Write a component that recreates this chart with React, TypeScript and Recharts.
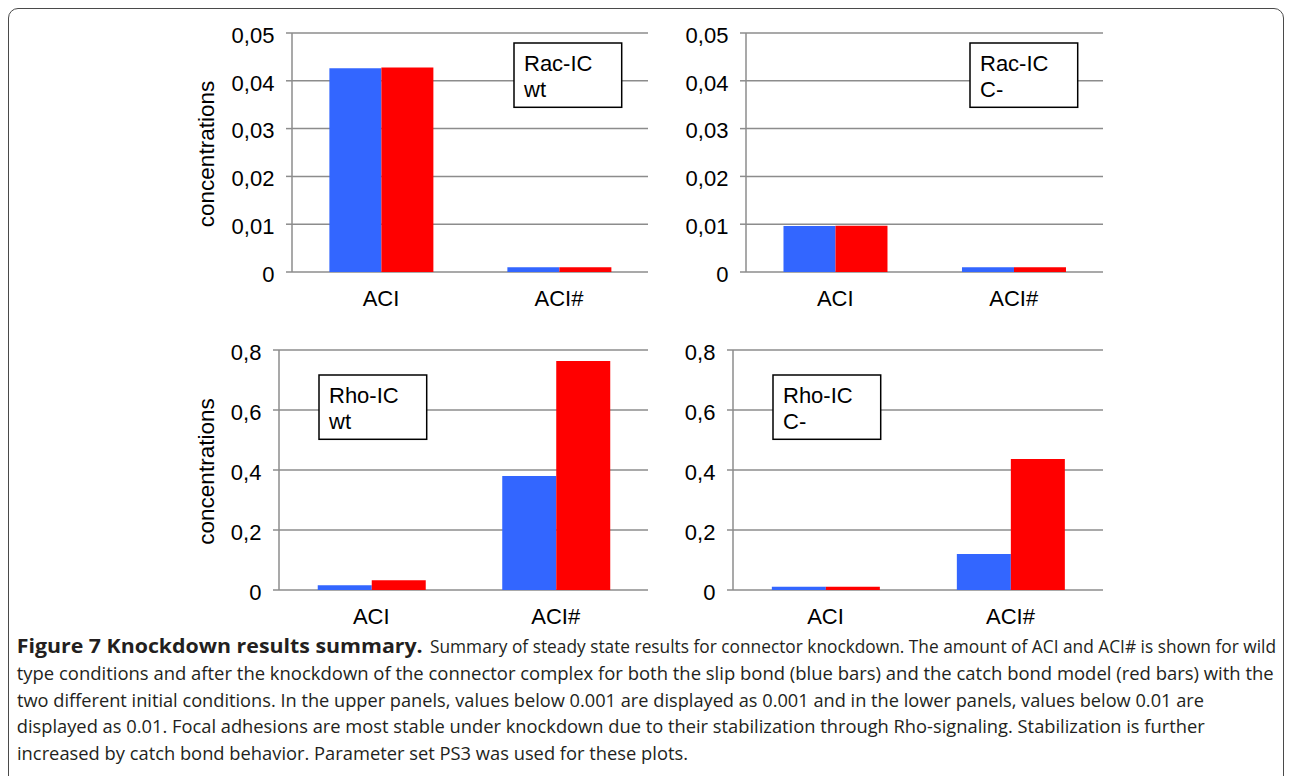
import React from 'react';
import { BarChart, Bar, XAxis, YAxis, CartesianGrid } from 'recharts';

// ---------- data ----------
const categories = ['ACI', 'ACI#'];

const racWtSlip = [0.0426, 0.001];
const racWtCatch = [0.0428, 0.001];
const racCSlip = [0.0096, 0.001];
const racCCatch = [0.0097, 0.001];
const rhoWtSlip = [0.0157, 0.38];
const rhoWtCatch = [0.0324, 0.763];
const rhoCSlip = [0.011, 0.12];
const rhoCCatch = [0.011, 0.437];

const racTicks = [0, 0.01, 0.02, 0.03, 0.04, 0.05];
const racTickLabels = ['0', '0,01', '0,02', '0,03', '0,04', '0,05'];
const rhoTicks = [0, 0.2, 0.4, 0.6, 0.8];
const rhoTickLabels = ['0', '0,2', '0,4', '0,6', '0,8'];
const boundaryTicks = [0, 1, 2];

const boxRacWt = ['Rac-IC', 'wt'];
const boxRacC = ['Rac-IC', 'C-'];
const boxRhoWt = ['Rho-IC', 'wt'];
const boxRhoC = ['Rho-IC', 'C-'];

const yTitle = 'concentrations';

const captionTitle = 'Figure 7 Knockdown results summary.';
const captionLines = [
  'Summary of steady state results for connector knockdown. The amount of ACI and ACI# is shown for wild',
  'type conditions and after the knockdown of the connector complex for both the slip bond (blue bars) and the catch bond model (red bars) with the',
  'two different initial conditions. In the upper panels, values below 0.001 are displayed as 0.001 and in the lower panels, values below 0.01 are',
  'displayed as 0.01. Focal adhesions are most stable under knockdown due to their stabilization through Rho-signaling. Stabilization is further',
  'increased by catch bond behavior. Parameter set PS3 was used for these plots.',
];

// ---------- style ----------
const FONT = '"Liberation Sans", Arial, sans-serif';
const GRID = '#8c8c8c';
const BLUE = '#3366FF';
const RED = '#FF0000';

type PanelProps = {
  chartLeft: number;
  chartTop: number;
  plotLeft: number;
  plotRight: number;
  plotTop: number;
  plotBottom: number;
  slip: number[];
  catchV: number[];
  ticks: number[];
  tickLabels: string[];
  showTitle: boolean;
  box: string[];
  boxDx: number;
  boxDy: number;
};

const renderNothing = () => <g />;

function Panel(p: PanelProps) {
  const data = categories.map((c, i) => ({ name: c, slip: p.slip[i], catchBond: p.catchV[i] }));
  const marginTop = p.plotTop - p.chartTop;
  const yWidth = p.plotLeft - p.chartLeft;
  const marginRight = 12;
  const width = p.plotRight - p.chartLeft + marginRight;
  const xH = 50;
  const height = p.plotBottom - p.chartTop + xH;

  const yTick = (props: any) => {
    const idx = p.ticks.indexOf(props.payload.value);
    return (
      <text x={props.x} y={props.y} dy={9.8} textAnchor="end" fontSize={22} fontFamily={FONT} fill="#000">
        {idx >= 0 ? p.tickLabels[idx] : ''}
      </text>
    );
  };
  const xTick = (props: any) => (
    <text x={props.x} y={props.y} dy={34} textAnchor="middle" fontSize={22} fontFamily={FONT} fill="#000">
      {props.payload.value}
    </text>
  );
  const titleLabel = (props: any) => {
    const vb = props.viewBox || {};
    const cx = vb.x + 34;
    const cy = vb.y + vb.height / 2 + 1.5;
    return (
      <text
        x={cx}
        y={cy}
        transform={`rotate(-90 ${cx} ${cy})`}
        textAnchor="middle"
        fontSize={22.5}
        fontFamily={FONT}
        fill="#000"
      >
        {yTitle}
      </text>
    );
  };

  return (
    <div style={{ position: 'absolute', left: p.chartLeft, top: p.chartTop, width, height }}>
      <BarChart
        width={width}
        height={height}
        data={data}
        margin={{ top: marginTop, right: marginRight, bottom: 0, left: 0 }}
        barCategoryGap="21%"
        barGap={0}
      >
        <CartesianGrid vertical={false} stroke={GRID} strokeWidth={1.5} />
        <XAxis
          xAxisId="edge"
          type="number"
          domain={[0, 2]}
          ticks={boundaryTicks}
          allowDataOverflow
          height={0}
          tick={renderNothing}
          tickSize={6}
          tickLine={{ stroke: GRID, strokeWidth: 1.5 }}
          axisLine={{ stroke: GRID, strokeWidth: 1.5 }}
        />
        <XAxis
          dataKey="name"
          height={xH}
          tickLine={false}
          axisLine={false}
          tickSize={0}
          tickMargin={0}
          interval={0}
          tick={xTick}
        />
        <YAxis
          width={yWidth}
          type="number"
          domain={[p.ticks[0], p.ticks[p.ticks.length - 1]]}
          ticks={p.ticks}
          interval={0}
          tickSize={6}
          tickMargin={11.6}
          tick={yTick}
          tickLine={{ stroke: GRID, strokeWidth: 1.5 }}
          axisLine={{ stroke: GRID, strokeWidth: 1.5 }}
          label={p.showTitle ? titleLabel : undefined}
        />
        <Bar dataKey="slip" fill={BLUE} isAnimationActive={false} />
        <Bar dataKey="catchBond" fill={RED} isAnimationActive={false} />
      </BarChart>
      <svg
        width={110}
        height={68}
        style={{ position: 'absolute', left: p.plotLeft - p.chartLeft + p.boxDx - 1, top: p.plotTop - p.chartTop + p.boxDy - 1 }}
      >
        <rect x={1} y={1} width={107.7} height={64.3} fill="#fff" stroke="#000" strokeWidth={1.5} />
        <text x={11} y={28.7} fontSize={22} fontFamily={FONT} fill="#000">{p.box[0]}</text>
        <text x={11} y={54.7} fontSize={22} fontFamily={FONT} fill="#000">{p.box[1]}</text>
      </svg>
    </div>
  );
}

export default function App() {
  const capFont = '"Open Sans", "Noto Sans", sans-serif';
  const capSize = 17.5;
  return (
    <div
      style={{
        position: 'absolute',
        left: 0,
        top: 0,
        width: 1294,
        height: 776,
        background: '#fff',
        overflow: 'hidden',
        fontFamily: FONT,
      }}
    >
      <div
        style={{
          position: 'absolute',
          left: 7.5,
          top: 7.5,
          width: 1276,
          height: 820,
          border: '1.5px solid #4a4a4a',
          borderRadius: 10,
          boxSizing: 'border-box',
        }}
      />
      <Panel
        chartLeft={180}
        chartTop={13}
        plotLeft={292}
        plotRight={648}
        plotTop={33}
        plotBottom={272}
        slip={racWtSlip}
        catchV={racWtCatch}
        ticks={racTicks}
        tickLabels={racTickLabels}
        showTitle
        box={boxRacWt}
        boxDx={222}
        boxDy={10}
      />
      <Panel
        chartLeft={660}
        chartTop={13}
        plotLeft={746}
        plotRight={1103}
        plotTop={33}
        plotBottom={272}
        slip={racCSlip}
        catchV={racCCatch}
        ticks={racTicks}
        tickLabels={racTickLabels}
        showTitle={false}
        box={boxRacC}
        boxDx={224}
        boxDy={10}
      />
      <Panel
        chartLeft={180}
        chartTop={330}
        plotLeft={279}
        plotRight={648}
        plotTop={350}
        plotBottom={590}
        slip={rhoWtSlip}
        catchV={rhoWtCatch}
        ticks={rhoTicks}
        tickLabels={rhoTickLabels}
        showTitle
        box={boxRhoWt}
        boxDx={40}
        boxDy={25}
      />
      <Panel
        chartLeft={660}
        chartTop={330}
        plotLeft={733}
        plotRight={1103}
        plotTop={350}
        plotBottom={590}
        slip={rhoCSlip}
        catchV={rhoCCatch}
        ticks={rhoTicks}
        tickLabels={rhoTickLabels}
        showTitle={false}
        box={boxRhoC}
        boxDx={40}
        boxDy={25}
      />
      <svg width={1294} height={176} style={{ position: 'absolute', left: 0, top: 600 }}>
        <text x={16.7} y={53.3} fontSize={19.5} fontWeight="bold" fontFamily={capFont} fill="#231f20" textLength={406} lengthAdjust="spacingAndGlyphs">
          {captionTitle}
        </text>
        <text x={430} y={53.3} fontSize={capSize} fontFamily={capFont} fill="#231f20" textLength={846} lengthAdjust="spacingAndGlyphs">
          {captionLines[0]}
        </text>
        <text x={16.7} y={80} fontSize={capSize} fontFamily={capFont} fill="#231f20" textLength={1257} lengthAdjust="spacingAndGlyphs">
          {captionLines[1]}
        </text>
        <text x={17} y={106.7} fontSize={capSize} fontFamily={capFont} fill="#231f20" textLength={1187} lengthAdjust="spacingAndGlyphs">
          {captionLines[2]}
        </text>
        <text x={16.7} y={133.3} fontSize={capSize} fontFamily={capFont} fill="#231f20" textLength={1188} lengthAdjust="spacingAndGlyphs">
          {captionLines[3]}
        </text>
        <text x={17} y={160} fontSize={capSize} fontFamily={capFont} fill="#231f20" textLength={671} lengthAdjust="spacingAndGlyphs">
          {captionLines[4]}
        </text>
      </svg>
    </div>
  );
}
